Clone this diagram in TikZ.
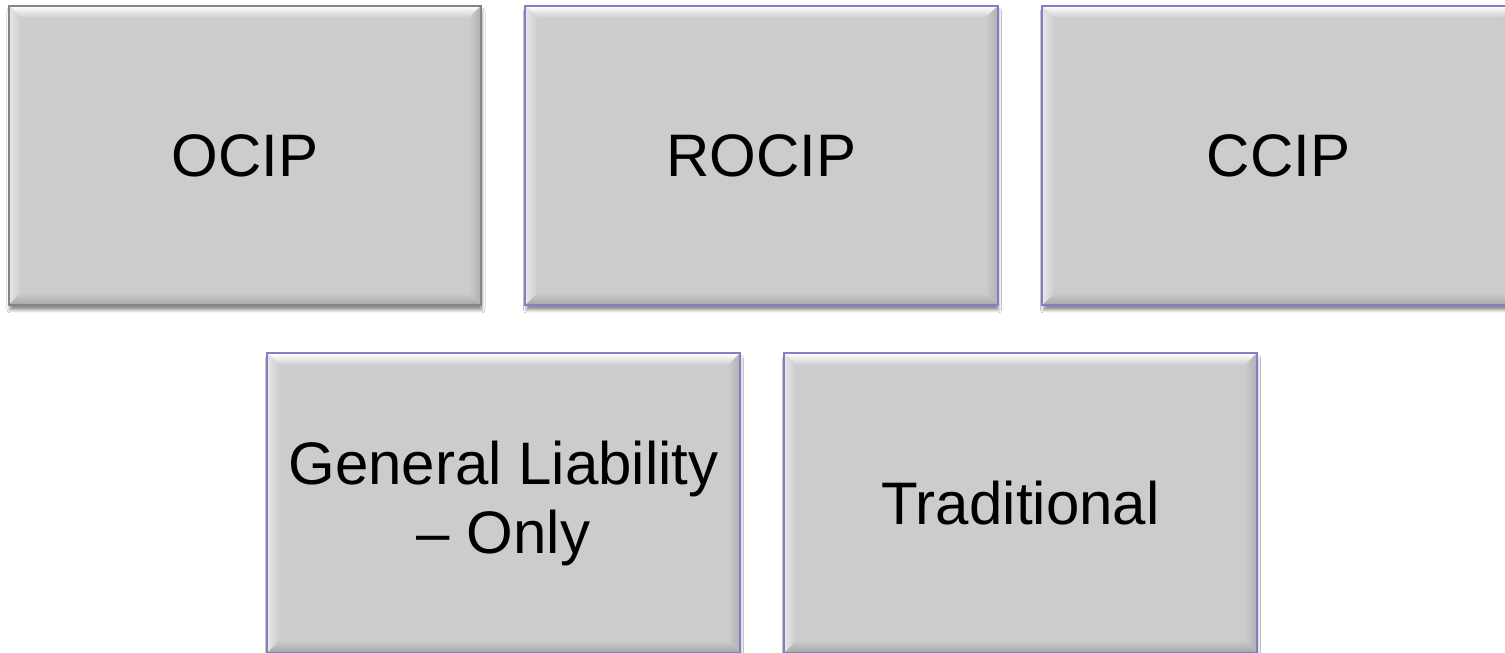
\documentclass[tikz,border=0pt]{standalone}
\usepackage{fontspec}
\setmainfont{Liberation Sans}
\usetikzlibrary{shadows.blur}

\definecolor{boxgray}{HTML}{CCCCCC}
\definecolor{lightband}{HTML}{E6E6E6}
\definecolor{darkband}{HTML}{A6A6A6}
\definecolor{sideband}{HTML}{B0B0B0}
\definecolor{edgeblue}{HTML}{8080C4}
\definecolor{edgegray}{HTML}{858585}

\tikzset{
  x=1pt, y=1pt,
  bevel/.style={
    path picture={
      \def\bw{12}
      \coordinate (pnw) at (path picture bounding box.north west);
      \coordinate (pne) at (path picture bounding box.north east);
      \coordinate (psw) at (path picture bounding box.south west);
      \coordinate (pse) at (path picture bounding box.south east);
      \shade[top color=white, bottom color=boxgray]
        (pnw) -- (pne) -- ([shift={(-\bw,-\bw)}]pne) -- ([shift={(\bw,-\bw)}]pnw) -- cycle;
      \shade[left color=lightband, right color=boxgray]
        (pnw) -- ([shift={(\bw,-\bw)}]pnw) -- ([shift={(\bw,\bw)}]psw) -- (psw) -- cycle;
      \shade[top color=boxgray, bottom color=darkband]
        (psw) -- ([shift={(\bw,\bw)}]psw) -- ([shift={(-\bw,\bw)}]pse) -- (pse) -- cycle;
      \shade[left color=boxgray, right color=sideband]
        (pne) -- (pse) -- ([shift={(-\bw,\bw)}]pse) -- ([shift={(-\bw,-\bw)}]pne) -- cycle;
    }
  },
  tile/.style={
    rectangle, bevel, fill=boxgray,
    minimum width=472pt, minimum height=299pt, inner sep=0pt,
    align=center, font=\fontsize{60}{69}\selectfont,
    blur shadow={shadow xshift=1pt, shadow yshift=-5pt, shadow blur radius=3pt, shadow opacity=45}
  },
  tileedge/.style={draw=edgeblue, line width=2pt},
  grayedge/.style={draw=edgegray, line width=2pt}
}

\begin{document}
\begin{tikzpicture}
  \clip (0,0) rectangle (1505,653);
  \fill[white] (0,0) rectangle (1505,653);

  % upper row
  \node[tile] (ocip)  at (245,497.5)    {OCIP};
  \node[tile] (rocip) at (761.5,497.5)  {ROCIP};
  \node[tile] (ccip)  at (1278.5,497.5) {CCIP};

  % lower row
  \node[tile] (gl)   at (503.5,150)  {General Liability\\– Only};
  \node[tile] (trad) at (1020.5,150) {Traditional};

  % outlines on top of the bevel shading
  \draw[grayedge] (ocip.north west) rectangle (ocip.south east);
  \foreach \n in {rocip,ccip,gl,trad}
    \draw[tileedge] (\n.north west) rectangle (\n.south east);
\end{tikzpicture}
\end{document}
